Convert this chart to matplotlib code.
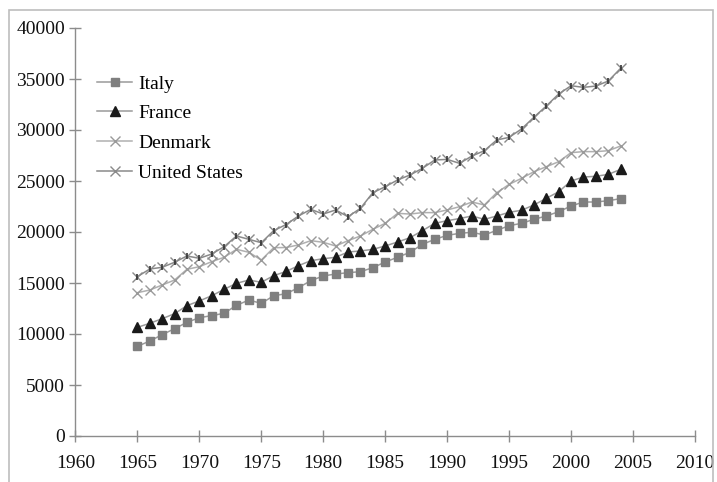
import matplotlib
matplotlib.use("Agg")
import matplotlib.pyplot as plt
from matplotlib.patches import Rectangle

years = list(range(1965, 2005))

italy = [8790, 9310, 9930, 10520, 11140, 11600, 11800, 12030, 12810, 13330,
         13000, 13750, 13950, 14540, 15230, 15690, 15880, 16010, 16110, 16500,
         17060, 17520, 18010, 18790, 19280, 19670, 19870, 19970, 19710, 20160,
         20620, 20850, 21240, 21570, 21990, 22550, 22940, 22940, 23070, 23270]

france = [10650, 11050, 11500, 11990, 12780, 13240, 13750, 14380, 14970, 15290,
          15070, 15720, 16130, 16700, 17190, 17380, 17520, 18040, 18140, 18300,
          18630, 19020, 19440, 20130, 20850, 21110, 21320, 21570, 21240, 21570,
          21930, 22130, 22650, 23300, 23950, 25000, 25390, 25460, 25650, 26140]

denmark = [14050, 14310, 14800, 15290, 16340, 16600, 17090, 17520, 18300, 18010,
           17250, 18460, 18480, 18730, 19150, 18990, 18630, 19150, 19610, 20260,
           20850, 21830, 21760, 21900, 21900, 22160, 22480, 22940, 22650, 23850,
           24670, 25260, 25910, 26400, 26890, 27780, 27880, 27880, 27970, 28430]

usa = [15620, 16370, 16540, 17030, 17650, 17420, 17840, 18560, 19610, 19280,
       18950, 20130, 20730, 21570, 22220, 21760, 22160, 21500, 22320, 23850,
       24440, 25100, 25590, 26240, 27060, 27120, 26730, 27450, 27970, 29020,
       29280, 30100, 31250, 32350, 33530, 34340, 34180, 34310, 34800, 36050]

x_ticks = list(range(1960, 2011, 5))
y_ticks = list(range(0, 40001, 5000))

plt.rcParams['font.family'] = ['Liberation Serif', 'DejaVu Serif']

fig = plt.figure(figsize=(7.17, 4.82), dpi=100)
ax = fig.add_axes([75.4/717, 1-436/482, 619.6/717, 408/482])

line_c = '#9a9a9a'
ax.plot(years, italy, color=line_c, lw=1.1, marker='s', ms=5.5,
        mfc='#7f7f7f', mec='#7f7f7f', label='Italy')
ax.plot(years, france, color=line_c, lw=1.1, marker='^', ms=6.5,
        mfc='#1a1a1a', mec='#1a1a1a', label='France')
ax.plot(years, denmark, color='#b0b0b0', lw=1.1, marker='x', ms=7,
        mew=1.0, mec='#9a9a9a', label='Denmark')
ax.plot(years, usa, color='#8a8a8a', lw=1.1, marker='x', ms=7,
        mew=1.0, mec='#8a8a8a', label='United States')
ax.plot(years, usa, ls='none', marker='|', ms=5, mew=1.2, mec='#333333')

ax.set_xlim(1960, 2010)
ax.set_ylim(0, 40000)
ax.set_xticks(x_ticks)
ax.set_yticks(y_ticks)
ax.set_xticklabels([str(v) for v in x_ticks])
ax.set_yticklabels([str(v) for v in y_ticks])

for s in ['top', 'right']:
    ax.spines[s].set_visible(False)
for s in ['left', 'bottom']:
    ax.spines[s].set_color('#8c8c8c')
    ax.spines[s].set_linewidth(1.0)
ax.tick_params(axis='both', direction='inout', length=9, width=1.0,
               color='#8c8c8c', labelsize=14, labelcolor='#111111')
ax.tick_params(axis='x', pad=9)
ax.tick_params(axis='y', pad=3)

leg = ax.legend(loc='upper left', bbox_to_anchor=(0.035, 0.885), frameon=False,
                fontsize=14, handlelength=1.8, handletextpad=0.3,
                labelspacing=0.62, borderpad=0, borderaxespad=0)

fig.patches.append(Rectangle((9/717, -0.1), (713-9)/717, 1.1 - 10/482,
                             transform=fig.transFigure, fill=False,
                             edgecolor='#bdbdbd', lw=1.2))

fig.savefig('out.png', dpi=100)
